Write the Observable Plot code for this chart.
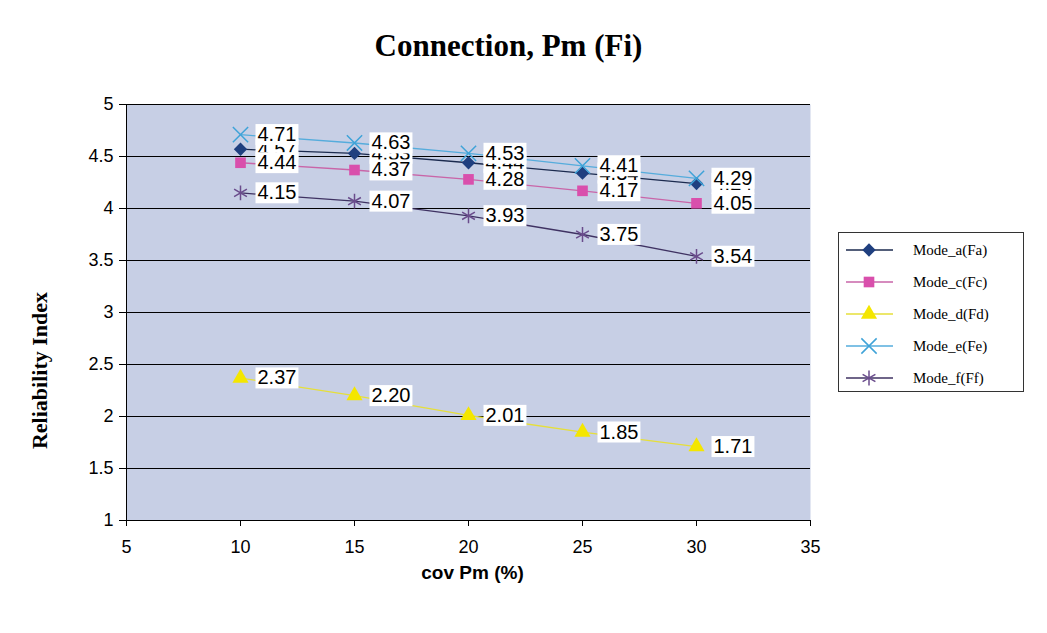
<!DOCTYPE html>
<html><head><meta charset="utf-8">
<script src="https://cdn.jsdelivr.net/npm/d3@7"></script>
<script src="https://cdn.jsdelivr.net/npm/@observablehq/plot@0.6"></script>
<style>
body{margin:0;background:#fff;}
#wrap{position:relative;width:1047px;height:633px;}
#legend{position:absolute;left:838px;top:232px;width:184px;height:158px;border:1px solid #333;background:#fff;}
</style>
</head><body><div id="wrap"></div>
<script>
const covPm = [10, 15, 20, 25, 30];
const modeA = [4.57, 4.53, 4.44, 4.34, 4.24];
const modeC = [4.44, 4.37, 4.28, 4.17, 4.05];
const modeD = [2.37, 2.20, 2.01, 1.85, 1.71];
const modeE = [4.71, 4.63, 4.53, 4.41, 4.29];
const modeF = [4.15, 4.07, 3.93, 3.75, 3.54];
const seriesNames = ["Mode_a(Fa)", "Mode_c(Fc)", "Mode_d(Fd)", "Mode_e(Fe)", "Mode_f(Ff)"];
const xTicks = [5, 10, 15, 20, 25, 30, 35];
const yTicks = [1, 1.5, 2, 2.5, 3, 3.5, 4, 4.5, 5];

const styles = {
  "Mode_a(Fa)": {line: "#1b2a4e", symbol: "diamond2", fill: "#1f3f7f", stroke: "none", r: 6},
  "Mode_c(Fc)": {line: "#c965a8", symbol: "square", fill: "#d94fac", stroke: "none", r: 6},
  "Mode_d(Fd)": {line: "#e6df3a", symbol: "triangle", fill: "#f4e600", stroke: "none", r: 6},
  "Mode_e(Fe)": {line: "#55acdc", symbol: "times", fill: "none", stroke: "#3fa3d8", r: 7},
  "Mode_f(Ff)": {line: "#3f3262", symbol: "asterisk", fill: "none", stroke: "#6a4c8c", r: 7}
};
const vals = [modeA, modeC, modeD, modeE, modeF];
const data = [];
seriesNames.forEach((s, i) => covPm.forEach((x, j) => data.push({series: s, x, y: vals[i][j]})));
const labelOrder = ["Mode_a(Fa)", "Mode_c(Fc)", "Mode_d(Fd)", "Mode_f(Ff)", "Mode_e(Fe)"];
const labelData = labelOrder.flatMap(s => data.filter(d => d.series === s));

const serif = "Liberation Serif, Times New Roman, serif";
const marks = [
  Plot.frame({fill: "#c7cfe5", stroke: "none"}),
  Plot.ruleY(yTicks, {stroke: "#000", strokeWidth: 1}),
  Plot.ruleX([5], {stroke: "#000", strokeWidth: 1}),
  Plot.axisX({ticks: xTicks, tickSize: 6, tickPadding: 14, fontSize: 18, label: null}),
  Plot.axisY({ticks: yTicks, tickSize: 7, tickPadding: 6, fontSize: 18, label: null, tickFormat: d => String(d)})
];
for (const s of seriesNames) {
  const st = styles[s];
  const sub = data.filter(d => d.series === s);
  marks.push(Plot.line(sub, {x: "x", y: "y", stroke: st.line, strokeWidth: 1.3}));
  marks.push(Plot.dot(sub, {x: "x", y: "y", symbol: () => st.symbol, r: st.r, fill: st.fill, stroke: st.stroke, strokeWidth: 1.5}));
}
marks.push(Plot.text(labelData, {x: "x", y: "y", text: d => d.y.toFixed(2), dx: 17, textAnchor: "start", fontSize: 20, fill: "#000", className: "lbl"}));
marks.push(Plot.text(["Connection, Pm (Fi)"], {frameAnchor: "top", textAnchor: "middle", lineAnchor: "middle", dy: -58, dx: 40, fontSize: 31, fontWeight: "bold", fontFamily: serif, fill: "#000"}));
marks.push(Plot.text(["cov Pm (%)"], {frameAnchor: "bottom", textAnchor: "middle", lineAnchor: "middle", dy: 52, dx: 4, fontSize: 19, fontWeight: "bold", fill: "#000"}));
marks.push(Plot.text(["Reliability Index"], {frameAnchor: "left", textAnchor: "middle", lineAnchor: "middle", dx: -87, dy: 58, rotate: -90, fontSize: 22, fontWeight: "bold", fontFamily: serif, fill: "#000"}));

const chart = Plot.plot({
  width: 1047, height: 633,
  marginLeft: 126, marginRight: 237, marginTop: 104, marginBottom: 113,
  style: {fontFamily: "Liberation Sans, Arial, sans-serif", background: "#fff", color: "#000"},
  x: {domain: [5, 35]},
  y: {domain: [1, 5]},
  marks
});
const wrap = document.getElementById("wrap");
wrap.appendChild(chart);

// white boxes behind data labels
d3.select(chart).selectAll(".lbl text").each(function() {
  const b = this.getBBox();
  const t = this.getAttribute("transform");
  const r = document.createElementNS("http://www.w3.org/2000/svg", "rect");
  r.setAttribute("x", b.x - 2); r.setAttribute("y", b.y + 1);
  r.setAttribute("width", b.width + 4); r.setAttribute("height", b.height - 1);
  r.setAttribute("fill", "#fff");
  if (t) r.setAttribute("transform", t);
  this.parentNode.insertBefore(r, this);
});

// legend
const leg = document.createElement("div");
leg.id = "legend";
wrap.appendChild(leg);
const ls = d3.select(leg).append("svg").attr("width", 184).attr("height", 158);
const symMap = {diamond2: d3.symbolDiamond2, square: d3.symbolSquare, triangle: d3.symbolTriangle, times: d3.symbolTimes, asterisk: d3.symbolAsterisk};
seriesNames.forEach((s, i) => {
  const st = styles[s];
  const y = 17 + i * 32;
  ls.append("line").attr("x1", 7).attr("x2", 54).attr("y1", y).attr("y2", y).attr("stroke", st.line).attr("stroke-width", 1.3);
  ls.append("path").attr("d", d3.symbol(symMap[st.symbol], Math.PI * st.r * st.r)()).attr("transform", `translate(30,${y})`)
    .attr("fill", st.fill).attr("stroke", st.stroke).attr("stroke-width", 1.5);
  ls.append("text").attr("x", 74).attr("y", y).attr("dy", "0.35em").attr("font-family", serif)
    .attr("font-size", 15).text(s);
});
</script>
</body></html>
